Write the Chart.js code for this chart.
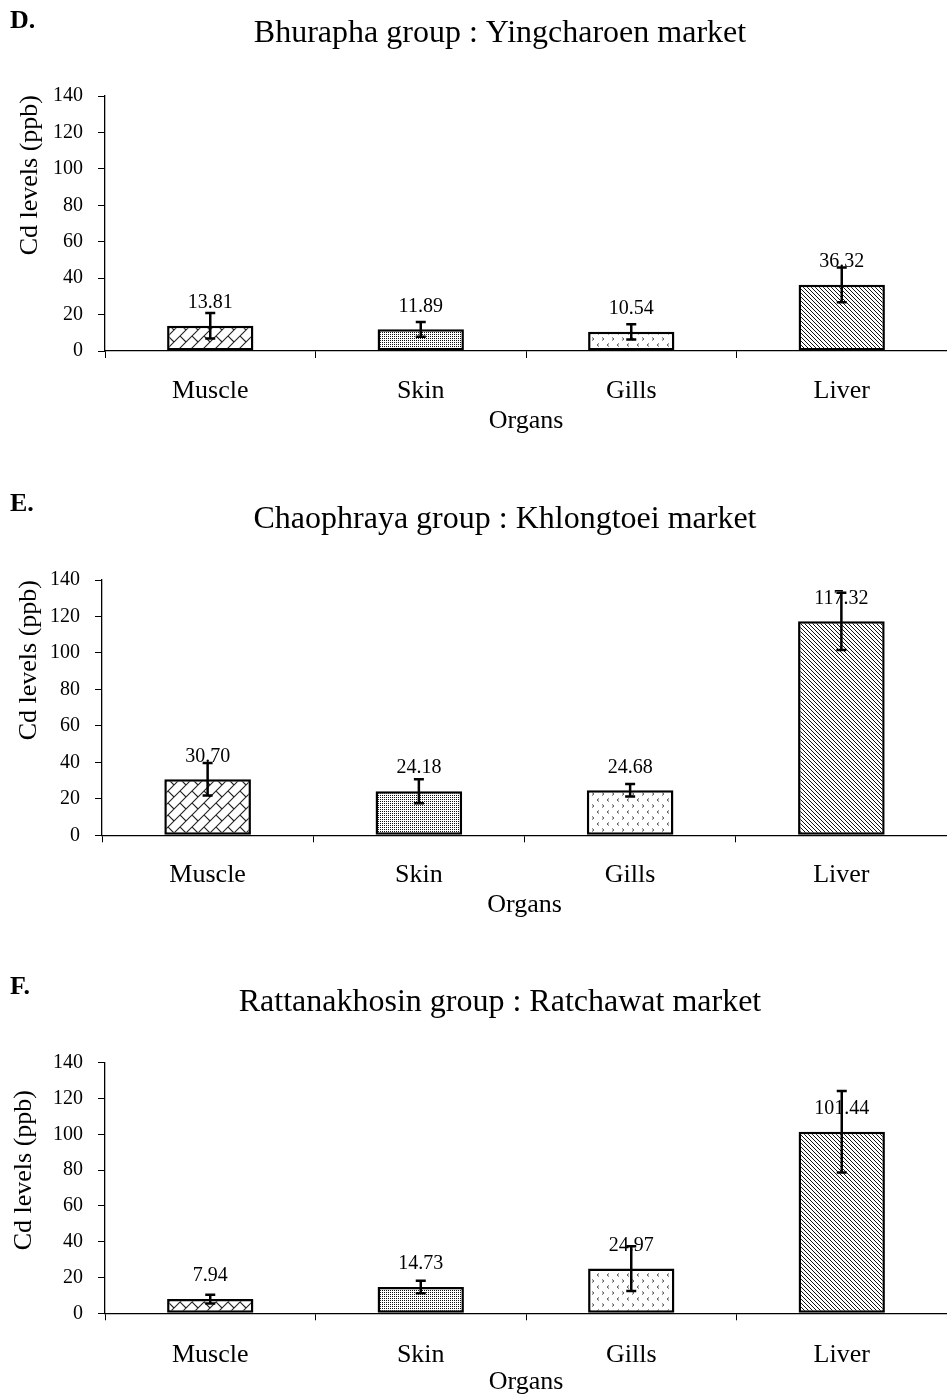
<!DOCTYPE html>
<html>
<head>
<meta charset="utf-8">
<title>Cd levels by organ</title>
<script src="https://cdn.jsdelivr.net/npm/chart.js@4.4.1/dist/chart.umd.min.js"></script>
<style>
  html, body { margin: 0; padding: 0; background: #fff; width: 947px; height: 1398px; overflow: hidden; }
  canvas { position: absolute; left: 0; display: block; }
</style>
</head>
<body>
<canvas id="panelD"></canvas>
<canvas id="panelE"></canvas>
<canvas id="panelF"></canvas>
<script>
// Organ categories and Y tick values shared by all panels
const organs = ['Muscle', 'Skin', 'Gills', 'Liver'];
const cdTicks = [0, 20, 40, 60, 80, 100, 120, 140];

// Mean Cd levels (ppb) and their error-bar half-lengths
const cdBhurapha = [13.81, 11.89, 10.54, 36.32];
const errBhurapha = [7.0, 4.1, 4.2, 9.5];

const cdChaophraya = [30.70, 24.18, 24.68, 117.32];
const errChaophraya = [8.9, 6.6, 3.4, 15.7];

const cdRattanakhosin = [7.94, 14.73, 24.97, 101.44];
const errRattanakhosin = [2.4, 3.5, 12.5, 22.8];

const SERIF = "'Liberation Serif', 'Times New Roman', 'DejaVu Serif', serif";

// Monochrome fill patterns, one per organ
function makePattern(ctx, w, h, paint) {
  const c = document.createElement('canvas');
  c.width = w; c.height = h;
  const g = c.getContext('2d');
  g.fillStyle = '#fff';
  g.fillRect(0, 0, w, h);
  paint(g);
  return ctx.createPattern(c, 'repeat');
}

function organPatterns(ctx) {
  return {
    // diagonal brick lattice
    Muscle: makePattern(ctx, 12, 12, g => {
      g.strokeStyle = '#222';
      g.lineWidth = 1.1;
      g.beginPath();
      g.moveTo(-2, 14); g.lineTo(14, -2);
      g.moveTo(-2, 2); g.lineTo(2, -2);
      g.moveTo(10, 14); g.lineTo(14, 10);
      g.moveTo(-1, -1); g.lineTo(6, 6);
      g.stroke();
    }),
    // fine stipple
    Skin: makePattern(ctx, 2, 2, g => {
      g.fillStyle = '#111';
      g.fillRect(0, 0, 1, 1);
    }),
    // small chevrons
    Gills: makePattern(ctx, 10, 12, g => {
      g.strokeStyle = '#555';
      g.lineWidth = 1;
      g.beginPath();
      g.moveTo(2, 1.5); g.lineTo(4, 3); g.lineTo(2, 4.5);
      g.moveTo(9, 7.5); g.lineTo(7, 9); g.lineTo(9, 10.5);
      g.stroke();
    }),
    // dense downward diagonals
    Liver: makePattern(ctx, 4, 4, g => {
      g.strokeStyle = '#111';
      g.lineWidth = 1.0;
      g.beginPath();
      g.moveTo(-1, -1); g.lineTo(5, 5);
      g.moveTo(3, -1); g.lineTo(5, 1);
      g.moveTo(-1, 3); g.lineTo(1, 5);
      g.stroke();
    })
  };
}

// Value labels, error bars, panel letter, panel title and Y axis title
const panelDecor = {
  id: 'panelDecor',
  afterDatasetsDraw(chart, args, o) {
    const ctx = chart.ctx;
    const ys = chart.scales.y;
    const meta = chart.getDatasetMeta(0);
    const values = chart.data.datasets[0].data;
    ctx.save();
    ctx.fillStyle = '#000';
    ctx.font = '20px ' + SERIF;
    ctx.textAlign = 'center';
    ctx.textBaseline = 'middle';
    meta.data.forEach((bar, i) => {
      ctx.fillText(values[i].toFixed(2), bar.x, ys.getPixelForValue(values[i]) - 23);
    });
    ctx.strokeStyle = '#000';
    ctx.lineWidth = 2.5;
    meta.data.forEach((bar, i) => {
      const hi = ys.getPixelForValue(values[i] + o.errors[i]);
      const lo = ys.getPixelForValue(values[i] - o.errors[i]);
      ctx.beginPath();
      ctx.moveTo(bar.x, hi); ctx.lineTo(bar.x, lo);
      ctx.moveTo(bar.x - 5, hi); ctx.lineTo(bar.x + 5, hi);
      ctx.moveTo(bar.x - 5, lo); ctx.lineTo(bar.x + 5, lo);
      ctx.stroke();
    });
    ctx.restore();
  },
  afterDraw(chart, args, o) {
    const ctx = chart.ctx;
    ctx.save();
    ctx.fillStyle = '#000';
    ctx.textBaseline = 'alphabetic';
    ctx.textAlign = 'left';
    ctx.font = 'bold 26px ' + SERIF;
    ctx.fillText(o.letter, 10, o.letterY);
    ctx.textAlign = 'center';
    ctx.font = '32px ' + SERIF;
    ctx.fillText(o.title, o.titleX, o.titleY);
    ctx.translate(o.yTitleX, o.yTitleTop);
    ctx.rotate(-Math.PI / 2);
    ctx.textAlign = 'right';
    ctx.font = '26px ' + SERIF;
    ctx.fillText('Cd levels (ppb)', 0, 0);
    ctx.restore();
  }
};

function drawPanel(id, geo, values, errors, decor) {
  const canvas = document.getElementById(id);
  canvas.width = 947;
  canvas.height = geo.height;
  canvas.style.top = geo.top + 'px';
  const ctx = canvas.getContext('2d');
  const fills = organPatterns(ctx);
  const catLine = 26 * 1.2;
  return new Chart(canvas, {
    type: 'bar',
    data: {
      labels: organs,
      datasets: [{
        data: values,
        backgroundColor: organs.map(o => fills[o]),
        borderColor: '#000',
        borderWidth: 2.5,
        borderSkipped: false,
        barPercentage: 0.41,
        categoryPercentage: 1
      }]
    },
    options: {
      responsive: false,
      animation: false,
      devicePixelRatio: 1,
      layout: { padding: { top: geo.plotTop, left: 0, right: 0, bottom: 0 } },
      plugins: {
        legend: { display: false },
        tooltip: { enabled: false },
        panelDecor: Object.assign({ errors }, decor)
      },
      scales: {
        x: {
          grid: { display: true, drawOnChartArea: false, drawTicks: true, tickLength: 7, color: '#000', lineWidth: 1 },
          border: { display: true, color: '#000', width: 1.3 },
          ticks: { color: '#000', font: { family: SERIF, size: 26 }, padding: geo.catOffset - 7 - catLine / 2 },
          title: {
            display: true, text: 'Organs', color: '#000',
            font: { family: SERIF, size: 26 },
            padding: { top: 0, bottom: Math.max(0, geo.height - geo.organsY - catLine / 2) }
          },
          afterFit: s => { s.height = geo.height - geo.plotBottom; }
        },
        y: {
          min: 0, max: 140,
          afterBuildTicks: s => { s.ticks = cdTicks.map(v => ({ value: v })); },
          grid: { display: true, drawOnChartArea: false, drawTicks: true, tickLength: 7, color: '#000', lineWidth: 1 },
          border: { display: true, color: '#000', width: 1.3 },
          ticks: { color: '#000', font: { family: SERIF, size: 20 }, padding: 15 },
          afterFit: s => { s.width = geo.axisLeft; }
        }
      }
    },
    plugins: [panelDecor]
  });
}

drawPanel('panelD',
  { top: 0, height: 460, plotTop: 96, plotBottom: 351, axisLeft: 105, catOffset: 40, organsY: 421 },
  cdBhurapha, errBhurapha,
  { letter: 'D.', letterY: 28, title: 'Bhurapha group : Yingcharoen market', titleX: 500, titleY: 42, yTitleX: 37, yTitleTop: 95 });

drawPanel('panelE',
  { top: 455, height: 475, plotTop: 125, plotBottom: 380.3, axisLeft: 102, catOffset: 40, organsY: 450 },
  cdChaophraya, errChaophraya,
  { letter: 'E.', letterY: 56, title: 'Chaophraya group : Khlongtoei market', titleX: 505, titleY: 73, yTitleX: 36, yTitleTop: 125 });

drawPanel('panelF',
  { top: 930, height: 468, plotTop: 132.7, plotBottom: 383.3, axisLeft: 105, catOffset: 42, organsY: 453 },
  cdRattanakhosin, errRattanakhosin,
  { letter: 'F.', letterY: 64, title: 'Rattanakhosin group : Ratchawat market', titleX: 500, titleY: 81, yTitleX: 31, yTitleTop: 160 });
</script>
</body>
</html>
